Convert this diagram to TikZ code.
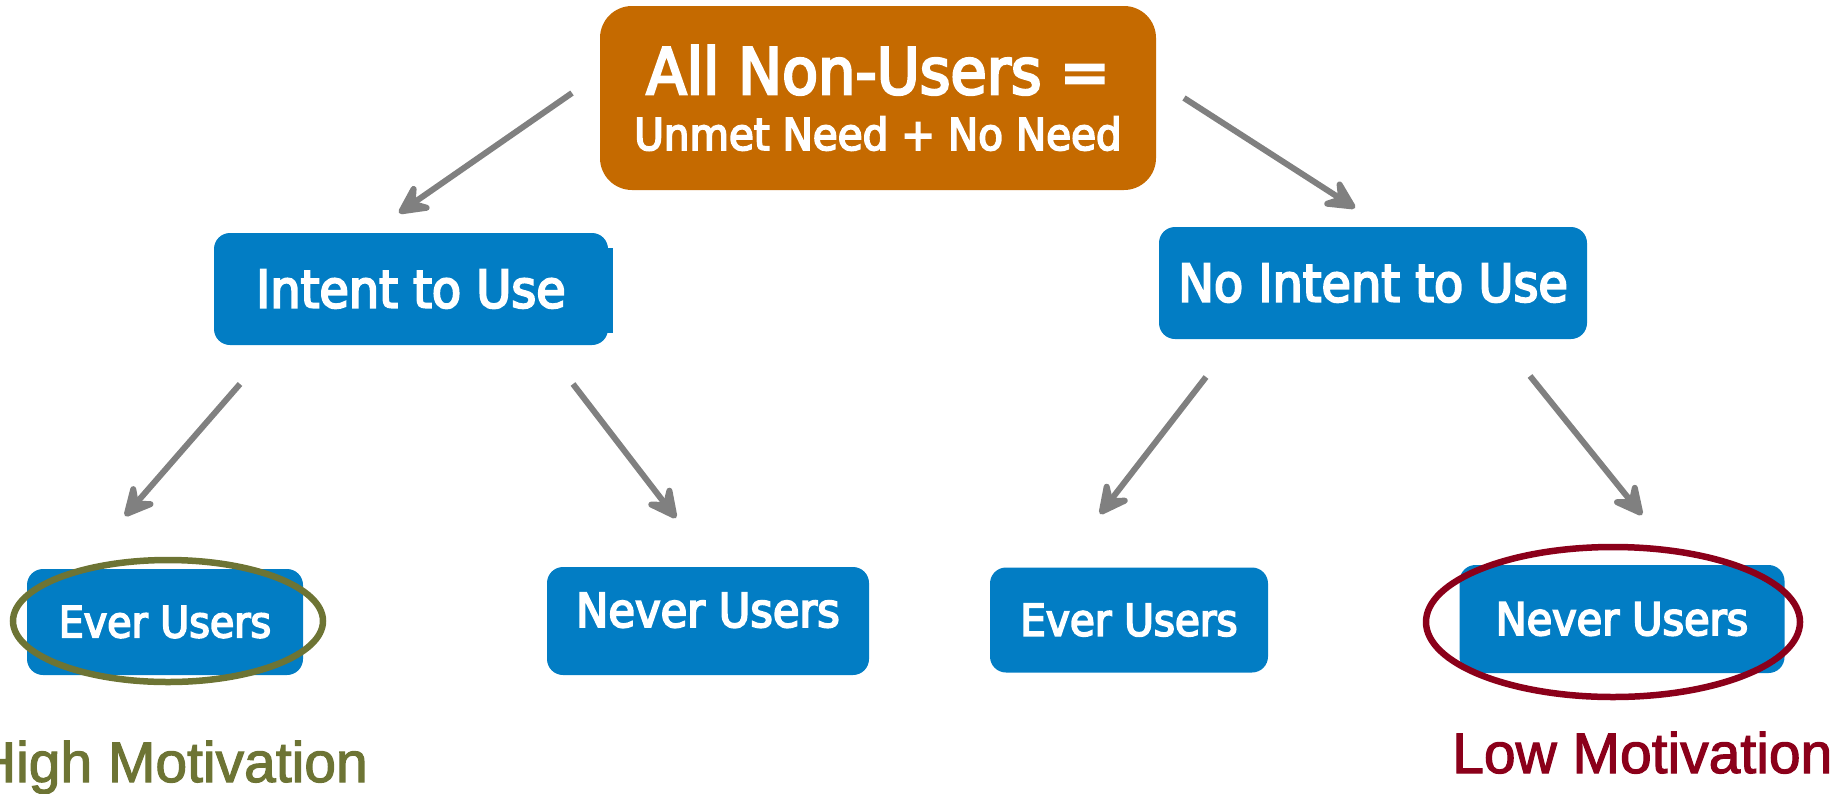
\documentclass[tikz,border=0pt]{standalone}
\usepackage{fontspec}
\setmainfont{DejaVu Sans}
\newfontfamily\boxfont[FakeBold=4,FakeStretch=0.92]{DejaVu Sans}
\newfontfamily\labelfont[FakeBold=2]{Liberation Sans}
\usetikzlibrary{arrows.meta,positioning}

\definecolor{topOrange}{RGB}{197,106,0}
\definecolor{boxBlue}{RGB}{2,125,196}
\definecolor{arrowGray}{RGB}{128,128,128}
\definecolor{hiGreen}{RGB}{109,116,52}
\definecolor{loRed}{RGB}{139,0,26}

\tikzset{
  topbox/.style={fill=topOrange,rounded corners=32pt,text=white,align=center,
    minimum width=556pt,minimum height=184pt,inner sep=0pt},
  bluebox/.style={fill=boxBlue,rounded corners=16pt,text=white,inner sep=0pt},
  flow/.style={draw=arrowGray,line width=6pt,
    -{Stealth[length=40pt,width=40pt,inset=16pt,round]}},
  ring/.style={line width=6.5pt},
  motiv/.style={font=\labelfont\fontsize{57}{60}\selectfont,inner sep=0pt}
}

\begin{document}
\begin{tikzpicture}[x=1pt,y=-1pt]
\useasboundingbox (0,0) rectangle (1843,793);
\clip (0,0) rectangle (1843,793);

\node[topbox,font=\boxfont\fontsize{64}{56}\selectfont] (top) at (878,98)
  {All Non-Users =\\\fontsize{44}{56}\selectfont Unmet Need + No Need};

\fill[boxBlue] (604,248) rectangle (613,333);
\node[bluebox,minimum width=394pt,minimum height=112pt,font=\boxfont\fontsize{52}{60}\selectfont]
  (intent) at (411,289) {Intent to Use};
\node[bluebox,minimum width=428pt,minimum height=112pt,font=\boxfont\fontsize{52}{60}\selectfont]
  (noIntent) at (1373,283) {No Intent to Use};

\node[bluebox,minimum width=276pt,minimum height=106pt,font=\boxfont\fontsize{43}{50}\selectfont]
  (everL) at (165,622) {Ever Users};
\node[bluebox,minimum width=322pt,minimum height=108pt,font=\boxfont\fontsize{47}{50}\selectfont,
  text height=34pt,text depth=22pt] (neverL) at (708,621) {Never Users};
\node[bluebox,minimum width=278pt,minimum height=105pt,font=\boxfont\fontsize{44}{50}\selectfont]
  (everR) at (1129,620) {Ever Users};
\node[bluebox,minimum width=325pt,minimum height=108pt,font=\boxfont\fontsize{45}{50}\selectfont]
  (neverR) at (1622,619) {Never Users};

% arrow ends, kept clear of the boxes
\coordinate (topOutL) at (572,93);
\coordinate (intentIn) at (399,213);
\coordinate (topOutR) at (1184,98);
\coordinate (noIntentIn) at (1355,208);
\coordinate (intentOutL) at (240,384);
\coordinate (everLIn) at (125,516);
\coordinate (intentOutR) at (573,384);
\coordinate (neverLIn) at (676,518);
\coordinate (noIntentOutL) at (1206,377);
\coordinate (everRIn) at (1100,514);
\coordinate (noIntentOutR) at (1530,376);
\coordinate (neverRIn) at (1642,515);

\foreach \from/\to in {topOutL/intentIn,topOutR/noIntentIn,intentOutL/everLIn,
    intentOutR/neverLIn,noIntentOutL/everRIn,noIntentOutR/neverRIn}
  \draw[flow] (\from) -- (\to);

\draw[ring,hiGreen] (168,621) ellipse [x radius=155pt,y radius=61pt];
\draw[ring,loRed] (1613,622) ellipse [x radius=187pt,y radius=75pt];

\node[motiv,text=hiGreen,anchor=base east] (hiMot) at (368,782) {High Motivation};
\node[motiv,text=loRed,anchor=base west] (loMot) at (1452,773) {Low Motivation};

\end{tikzpicture}
\end{document}
